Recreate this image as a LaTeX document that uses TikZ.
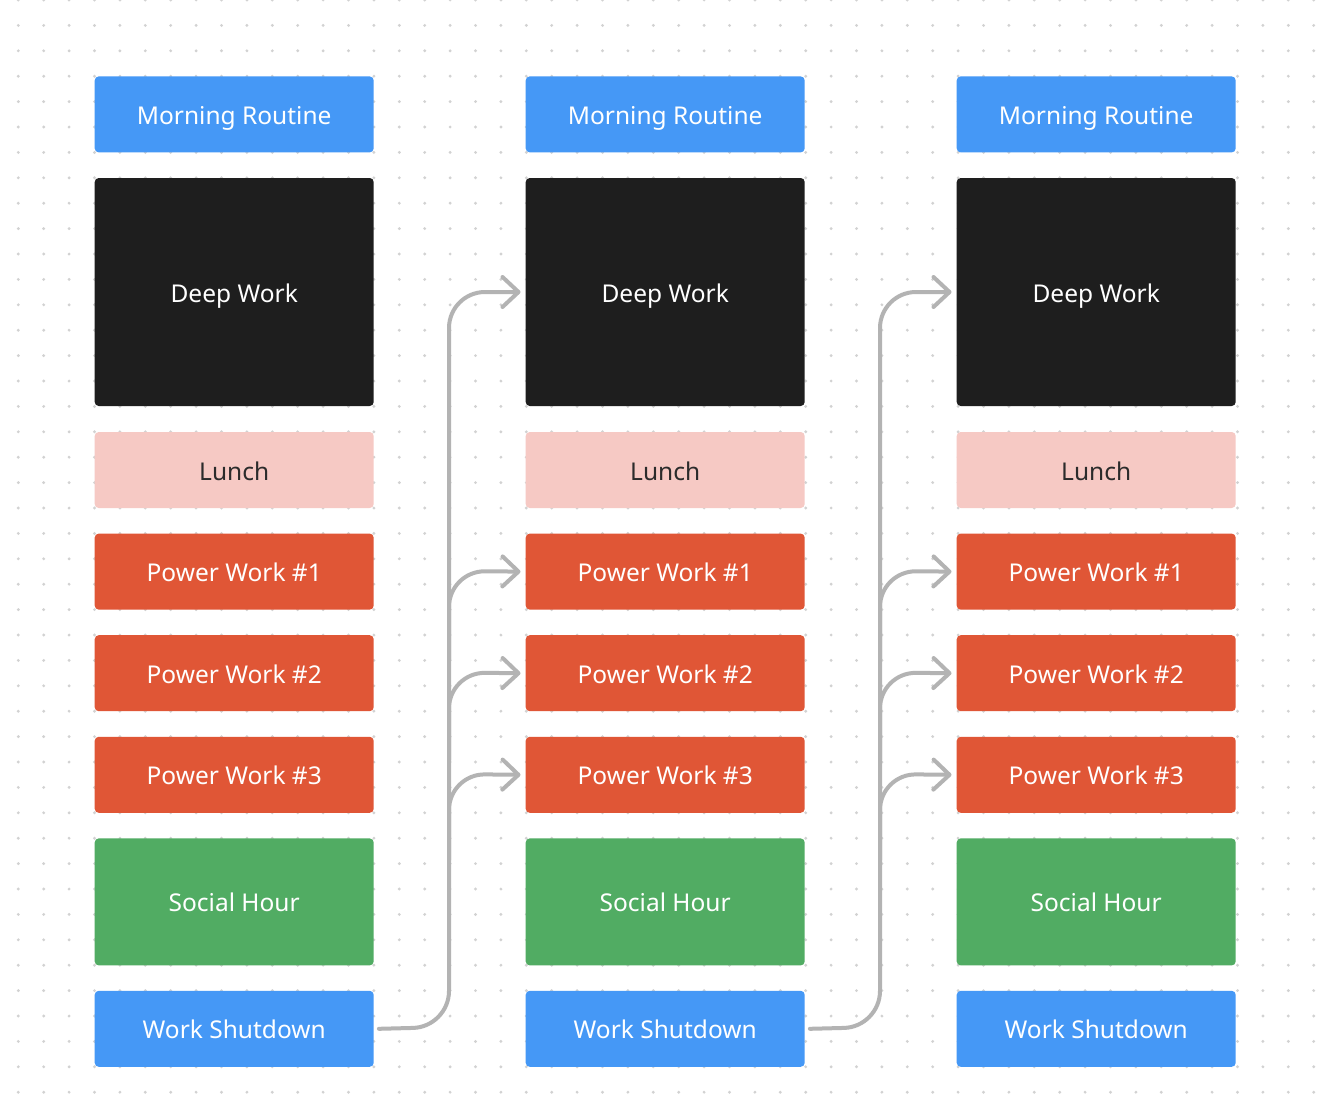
\documentclass[tikz,border=0pt]{standalone}
\usepackage{fontspec}
\setmainfont{Noto Sans}
\usetikzlibrary{arrows.meta}
\definecolor{cblue}{HTML}{4598F6}
\definecolor{cdark}{HTML}{1E1E1E}
\definecolor{cpink}{HTML}{F6C9C4}
\definecolor{corange}{HTML}{E05636}
\definecolor{cgreen}{HTML}{51AC63}
\definecolor{cdot}{HTML}{D2D2D2}
\definecolor{carrow}{HTML}{B3B3B3}
\definecolor{ctext}{HTML}{2B2B2B}
\tikzset{
  blk/.style={rounded corners=4pt, inner sep=0pt, minimum width=279pt, anchor=north west,
    font=\fontsize{24.5}{28}\selectfont, text=white, text height=20pt, text depth=0pt},
  blue/.style={blk, fill=cblue, minimum height=76pt},
  dark/.style={blk, fill=cdark, minimum height=228pt},
  pink/.style={blk, fill=cpink, minimum height=76pt, text=ctext},
  orange/.style={blk, fill=corange, minimum height=76pt},
  green/.style={blk, fill=cgreen, minimum height=127pt},
  flow/.style={draw=carrow, line width=4pt, rounded corners=36pt, line cap=round,
    -{Straight Barb[length=16pt, width=30pt, line width=4pt, round]}}
}
\begin{document}
\begin{tikzpicture}[x=1pt,y=-1pt]
\useasboundingbox (0,0) rectangle (1328,1114);
\fill[white] (0,0) rectangle (1328,1114);
\foreach \i in {0,...,51}{
  \foreach \j in {0,...,43}{
    \fill[cdot] ({18.3+25.4*\i},{25.4*\j}) circle (1.6pt);
  }
}
\foreach \c/\x in {1/94.5, 2/525.5, 3/956.5}{
  \node[blue]   (mr\c) at (\x,76.2)  {Morning Routine};
  \node[dark]   (dw\c) at (\x,177.8) {Deep Work};
  \node[pink]   (lu\c) at (\x,431.8) {Lunch};
  \node[orange] (pa\c) at (\x,533.4) {Power Work \#1};
  \node[orange] (pb\c) at (\x,635)   {Power Work \#2};
  \node[orange] (pc\c) at (\x,736.6) {Power Work \#3};
  \node[green]  (sh\c) at (\x,838.2) {Social Hour};
  \node[blue]   (ws\c) at (\x,990.6) {Work Shutdown};
}
% connectors
\foreach \a/\b/\v in {1/2/449, 2/3/880}{
  \coordinate (s\a) at ([xshift=5pt]ws\a.east);
  \draw[flow] (s\a) -- (\v,1027) -- (\v,292) -- ([xshift=-5pt]dw\b.west);
  \draw[flow] (\v,660) -- (\v,571) -- ([xshift=-5pt]pa\b.west);
  \draw[flow] (\v,760) -- (\v,672.5) -- ([xshift=-5pt]pb\b.west);
  \draw[flow] (\v,860) -- (\v,774) -- ([xshift=-5pt]pc\b.west);
}
\end{tikzpicture}
\end{document}
